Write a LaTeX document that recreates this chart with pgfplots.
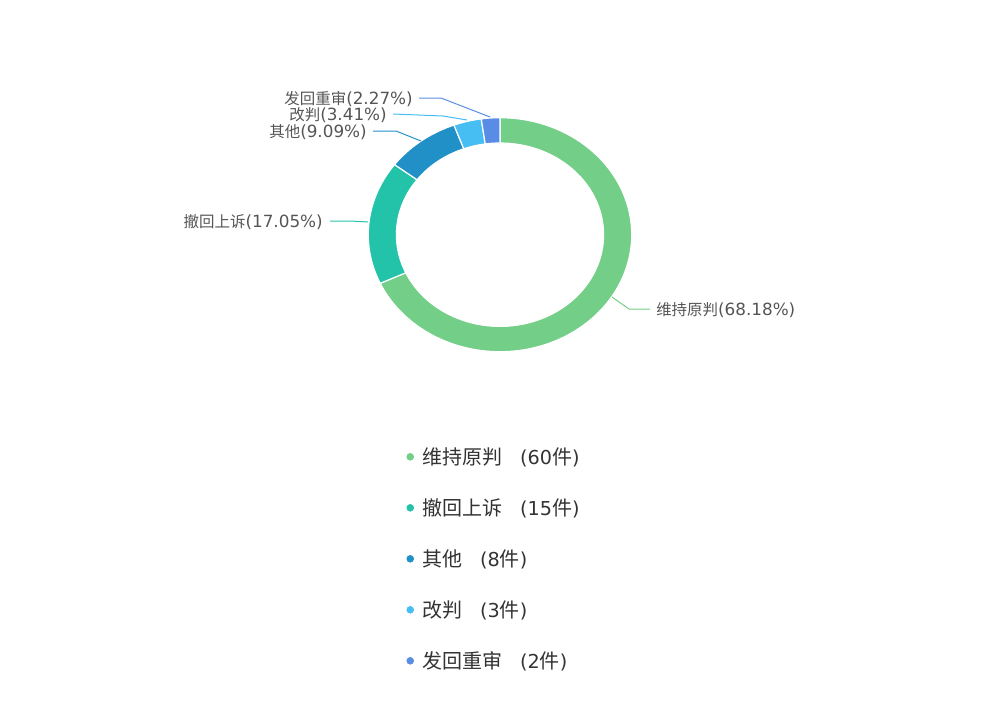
\documentclass[border=0pt]{standalone}
\usepackage{pgfplots}
\pgfplotsset{compat=1.18}
\usepackage{fontspec}
\setmainfont{Noto Sans CJK SC}
\newfontfamily\dv{DejaVu Sans}

\definecolor{cA}{HTML}{73CE87}
\definecolor{cB}{HTML}{22C3A9}
\definecolor{cC}{HTML}{2190C7}
\definecolor{cD}{HTML}{46BDF3}
\definecolor{cE}{HTML}{598DE5}
\definecolor{lab}{HTML}{555555}
\definecolor{lgd}{HTML}{333333}

% counts per outcome
\def\nA{60}% 维持原判
\def\nB{15}% 撤回上诉
\def\nC{8}%  其他
\def\nD{3}%  改判
\def\nE{2}%  发回重审
\pgfmathsetmacro\tot{\nA+\nB+\nC+\nD+\nE}
\pgfmathsetmacro\aA{90}
\pgfmathsetmacro\aB{\aA-\nA/\tot*360}
\pgfmathsetmacro\aC{\aB-\nB/\tot*360}
\pgfmathsetmacro\aD{\aC-\nC/\tot*360}
\pgfmathsetmacro\aE{\aD-\nD/\tot*360}
\pgfmathsetmacro\aF{\aE-\nE/\tot*360}

% outer arc for t=0..120, inner arc back for t=121..241, t=242 closes
\newcommand{\secth}[2]{(ifthenelse(\t<120.5,(#1)+((#2)-(#1))*\t/120,ifthenelse(\t>241.5,(#1),(#2)-((#2)-(#1))*(\t-121)/120)))}
\newcommand{\secr}[2]{ifthenelse(\t<120.5,#1,ifthenelse(\t>241.5,#1,#2))}
\newcommand{\sector}[3]{%
  \addplot[forget plot, fill=#1, draw=white, line width=0.9pt, line join=round,
    domain=0:242, samples=243, variable=\t]
  ({500+\secr{131.7}{103.6}*cos(\secth{#2}{#3})}, {234.7-\secr{117}{91.7}*sin(\secth{#2}{#3})});}

\newcommand{\lbl}{\fontsize{11.6}{13}\selectfont}
\newcommand{\lbn}[1]{{\dv\fontsize{12.6}{15}\selectfont #1}}
\newcommand{\lgn}[1]{{\dv\fontsize{14.4}{17}\selectfont #1}}
\newcommand{\lgitem}[2]{#1\hspace{13.5pt}\lgn{(#2}件\lgn{)}}
\newcommand{\lgdot}[1]{\addlegendimage{legend image code/.code={\fill[#1] (2.6pt,1.4pt) circle (2.6pt);}}}

\begin{document}
\begin{tikzpicture}
\begin{axis}[
  width=750.75pt, height=538.5pt, scale only axis,
  xmin=0, xmax=1001, ymin=0, ymax=718, y dir=reverse,
  hide axis, clip=false,
  legend cell align=left,
  legend style={draw=none, fill=none, inner sep=0pt, outer sep=0pt,
    at={(axis cs:406.5,450)}, anchor=north west,
    row sep=25.25pt, font=\fontsize{15}{17}\selectfont, text=lgd,
    nodes={inner sep=0pt, text height=10.5pt, text depth=2.5pt},
    /tikz/every odd column/.append style={column sep=6.2pt}},
]
\path (axis cs:0,0) rectangle (axis cs:1001,718);

\sector{cA}{\aA}{\aB}
\sector{cB}{\aB}{\aC}
\sector{cC}{\aC}{\aD}
\sector{cD}{\aD}{\aE}
\sector{cE}{\aE}{\aF}

% leader lines
\addplot[forget plot, cA, line width=0.75pt] coordinates {(612,297) (629,309) (650,309)};
\addplot[forget plot, cB, line width=0.75pt] coordinates {(330,221) (350,221) (368,222)};
\addplot[forget plot, cC, line width=0.75pt] coordinates {(373,131) (396,131) (421,141)};
\addplot[forget plot, cD, line width=0.75pt] coordinates {(393,114) (443,116) (467,120)};
\addplot[forget plot, cE, line width=0.75pt] coordinates {(419,98) (441,98) (490,117)};

\node[anchor=west, inner sep=0pt, font=\lbl, text=lab] at (axis cs:656,310) {维持原判\lbn{(68.18\%)}};
\node[anchor=east, inner sep=0pt, font=\lbl, text=lab] at (axis cs:323,222) {撤回上诉\lbn{(17.05\%)}};
\node[anchor=east, inner sep=0pt, font=\lbl, text=lab] at (axis cs:367,132) {其他\lbn{(9.09\%)}};
\node[anchor=east, inner sep=0pt, font=\lbl, text=lab] at (axis cs:387,115) {改判\lbn{(3.41\%)}};
\node[anchor=east, inner sep=0pt, font=\lbl, text=lab] at (axis cs:413,99) {发回重审\lbn{(2.27\%)}};

\lgdot{cA}\addlegendentry{\lgitem{维持原判}{60}}
\lgdot{cB}\addlegendentry{\lgitem{撤回上诉}{15}}
\lgdot{cC}\addlegendentry{\lgitem{其他}{8}}
\lgdot{cD}\addlegendentry{\lgitem{改判}{3}}
\lgdot{cE}\addlegendentry{\lgitem{发回重审}{2}}
\end{axis}
\end{tikzpicture}
\end{document}
